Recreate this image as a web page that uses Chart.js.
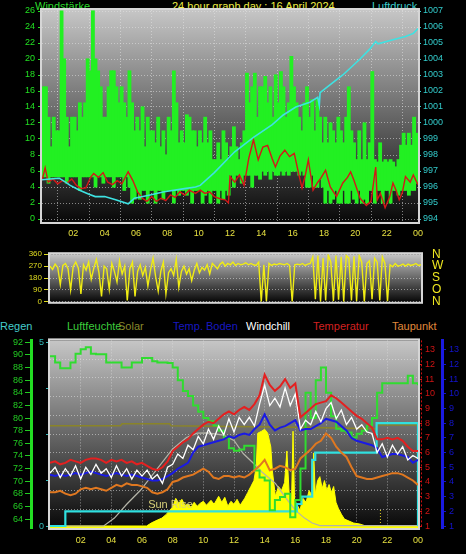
<!DOCTYPE html>
<html>
<head>
<meta charset="utf-8">
<script src="https://cdn.jsdelivr.net/npm/chart.js@4.4.1/dist/chart.umd.min.js"></script>
<style>
  body { margin: 0; background: #000; width: 466px; height: 554px; overflow: hidden; position: relative;
         font-family: "Liberation Sans", Arial, sans-serif; }
  .t { position: absolute; font-size: 11px; line-height: 12px; white-space: nowrap; }
  canvas { position: absolute; left: 0; }
</style>
</head>
<body>
<div class="t" style="left:35px;top:0;color:#2ddc2d">Windstärke</div>
<div class="t" style="left:172px;top:0;color:#eeee44">24 hour graph day : 16 April 2024</div>
<div class="t" style="left:372px;top:0;color:#3ccccc">Luftdruck</div>

<div class="t" style="left:0;top:320px;color:#44cccc">Regen</div>
<div class="t" style="left:67px;top:320px;color:#3ccc3c">Luftfeuchte</div>
<div class="t" style="left:118px;top:320px;color:#8a8a2c">Solar</div>
<div class="t" style="left:173px;top:320px;color:#1818c0">Temp. Boden</div>
<div class="t" style="left:246px;top:320px;color:#ffffff">Windchill</div>
<div class="t" style="left:313px;top:320px;color:#d42020">Temperatur</div>
<div class="t" style="left:392px;top:320px;color:#e08a3c">Taupunkt</div>

<canvas id="c1" width="466" height="245" style="top:0"></canvas>
<canvas id="c2" width="466" height="84" style="top:236px"></canvas>
<canvas id="c3" width="466" height="222" style="top:332px"></canvas>

<script>
// time axis (hours)
const stundenTicks = [2, 4, 6, 8, 10, 12, 14, 16, 18, 20, 22, 24];
const stundenLabels = ['02', '04', '06', '08', '10', '12', '14', '16', '18', '20', '22', '00'];

// wind speed, 10 minute slots, low..high
const windHoch = [
  16.5, 16.5, 12.7, 9, 12.7, 11,   11, 26, 20, 12.7, 9, 12.7,
  12.7, 11, 14.5, 12.7, 14.5, 20,   18.5, 26, 20, 18.5, 16.5, 12.7,
  12.7, 16.5, 18.5, 18.5, 16.5, 14.5,   16.5, 14.5, 12.7, 18.5, 14.5, 11,
  12.7, 11, 14, 9, 12.7, 11,   11, 9.5, 12.7, 9, 11, 8,
  12.7, 11, 18.5, 14.5, 9.5, 11,   9.5, 13, 12.7, 11, 11, 9,
  11, 9.5, 12.7, 9.5, 11, 7.4,   7.4, 9.5, 7.4, 11, 9.5, 7.4,
  9, 11.5, 9, 7.4, 9.5, 11,   18.2, 14.5, 16.5, 18.2, 12.7, 16.5,
  16.5, 17.8, 14.5, 16.5, 12.7, 18,   14.5, 18.4, 16.5, 12.7, 14.5, 20.3,
  16.5, 14.5, 12.7, 11, 14.5, 16.5,   12.7, 14.9, 11, 14.9, 12.7, 9.5,
  12.7, 9.5, 12, 11, 9.5, 12.7,   11, 9.5, 12.7, 16.5, 11, 9.5,
  7.4, 11, 7.4, 12, 7.4, 9.5,   18.4, 7.4, 7.1, 9.5, 7.1, 7.4,
  7.1, 7.4, 7.1, 6.5, 7.4, 9.2,   10.7, 9.2, 10.7, 9.2, 12.7, 10.7
];
const windTief = [
  5.3, 5.3, 4.5, 5.3, 5.3, 5.3,   5.3, 5.3, 5.3, 4.5, 5.3, 5.3,
  5.3, 5.3, 3.6, 5.3, 5.3, 5.3,   5.3, 5.3, 4, 5.3, 5.3, 4.5,
  5.3, 5.3, 5.3, 4, 5.3, 5.3,   5.3, 3.6, 5.3, 4, 2, 2.5,
  3.6, 2.5, 3.6, 3.6, 2, 3.6,   3.6, 2, 3.6, 3.6, 2.5, 3.6,
  3.6, 3.6, 2, 3.6, 3, 3.6,   3.6, 3, 3.6, 2, 3.6, 3.6,
  3.6, 2, 3, 3.6, 2, 3.6,   3.6, 2, 3.6, 2.5, 3.6, 3,
  5.5, 4, 5.5, 5.5, 4.5, 5.5,   5.5, 5.5, 4, 5.5, 5.5, 5,
  6, 5.5, 6, 5, 6, 5.5,   5.5, 6, 5.5, 6, 5.5, 6,
  6, 6, 5.5, 6, 5.5, 4,   4, 5.5, 4, 4, 5, 4,
  2, 3.6, 2, 2.5, 3.6, 2,   2, 3.6, 2, 2, 3.6, 2.5,
  2, 3.6, 2, 2.5, 2, 3.6,   3.6, 2, 3.6, 3.6, 2, 3.6,
  3.6, 2, 3.6, 3.6, 3, 3.6,   3.6, 3.6, 3, 3.6, 3.6, 4.5
];

// red line of the top panel (°C on the left scale)
const gefuehltStunden = [0, 0.2, 0.4, 0.7, 1.0, 1.3, 1.6, 1.9, 2.2, 2.5, 2.8, 3.1, 3.3, 3.6, 3.9, 4.2, 4.5, 4.8, 5.1, 5.5,
  5.8, 6.1, 6.4, 6.7, 7.0, 7.3, 7.6, 7.9, 8.2, 8.5, 8.8, 9.1, 9.4, 9.8, 10.1, 10.4, 10.7, 11.0, 11.4, 11.7, 11.9,
  12.0, 12.3, 12.6, 12.9, 13.2, 13.5, 13.8, 14.1, 14.4, 14.7, 14.9, 15.2, 15.5, 15.8, 16.1, 16.4, 16.6, 16.8, 17.0,
  17.3, 17.6, 17.8, 18.1, 18.4, 18.8, 19.2, 19.5, 19.7, 19.9, 20.3, 20.7, 21.0, 21.3, 21.4, 21.6, 21.9, 22.2, 22.4,
  22.6, 22.8, 23.0, 23.2, 23.5, 23.7, 24];
const gefuehltWerte = [4.8, 6.4, 4.6, 5.0, 4.4, 4.8, 4.5, 5.0, 4.2, 3.8, 3.9, 5.2, 5.7, 5.2, 5.8, 4.6, 4.3, 4.8, 4.4, 5.9,
  4.8, 3.4, 2.6, 2.2, 2.8, 2.2, 2.6, 2.3, 3.0, 2.7, 3.4, 3.0, 3.6, 3.2, 3.6, 3.2, 3.4, 2.8, 2.5, 2.4, 2.0,
  5.3, 4.6, 5.5, 4.2, 7.6, 9.9, 7.4, 9.0, 9.2, 7.5, 6.5, 7.9, 8.6, 7.8, 8.2, 5.5, 3.9, 5.4, 7.4,
  3.6, 4.6, 5.1, 6.1, 4.0, 2.8, 4.5, 5.2, 5.9, 4.9, 2.6, 1.7, 2.2, 6.5, 2.4, 3.2, 1.4, 2.8, 4.5,
  3.6, 2.4, 3.3, 5.3, 4.6, 5.5, 4.3];

// air pressure (hPa)
const druckStunden = [0, 0.5, 1.1, 1.5, 1.8, 2.4, 3.0, 3.4, 4.0, 4.7, 5.5, 5.9, 6.9, 7.8, 9.1, 9.8, 10.1, 11.0, 11.8,
  12.3, 13.5, 14.7, 15.4, 16.2, 17.1, 17.6, 17.7, 17.75, 18.4, 19.2, 20.3, 20.9, 21.3, 21.45, 22.4, 23.2, 23.7, 24];
const druckWerte = [996.45, 996.5, 996.55, 996.3, 996.1, 995.8, 995.55, 995.4, 995.4, 995.2, 994.95, 995.3, 995.5, 995.7,
  995.9, 996.0, 996.1, 996.9, 997.7, 998.2, 999.1, 999.9, 1000.5, 1001.0, 1001.3, 1001.6, 1001.1, 1001.9, 1002.4,
  1003.0, 1004.0, 1004.6, 1005.1, 1004.95, 1005.2, 1005.4, 1005.6, 1005.9];

const windTicks = [0, 2, 4, 6, 8, 10, 12, 14, 16, 18, 20, 22, 24, 26];
const druckTicks = [994, 995, 996, 997, 998, 999, 1000, 1001, 1002, 1003, 1004, 1005, 1006, 1007];

// wind direction, 10 minute samples (deg)
const richtung = [
  270, 245, 285, 260, 130, 275,   290, 250, 90, 265, 300, 255,
  60, 280, 240, 300, 170, 255,   320, 220, 40, 270, 250, 95,
  290, 230, 150, 310, 210, 270,   10, 250, 300, 40, 230, 280,
  200, 260, 120, 240, 330, 190,   80, 230, 300, 60, 220, 250,
  200, 320, 110, 230, 270, 210,   250, 160, 240, 290, 220, 260,
  240, 280, 210, 290, 270, 250,   285, 300, 270, 290, 280, 300,
  275, 290, 280, 285, 295, 280,   290, 280, 275, 300, 0, 280,
  5, 290, 275, 285, 280, 290,   285, 280, 290, 275, 0, 280,
  285, 280, 290, 275, 285, 290,   340, 20, 350, 0, 330, 10,
  355, 300, 5, 350, 15, 340,   0, 350, 330, 10, 345, 5,
  350, 300, 0, 290, 310, 20,   330, 300, 10, 340, 290, 5,
  280, 265, 290, 270, 275, 285,   270, 285, 275, 280, 290, 275,
  280
];
const richtungTicks = [0, 90, 180, 270, 360];
const richtungNamen = ['N', 'O', 'S', 'W', 'N'];

// bottom panel, 20 minute samples
const temperatur = [5.3, 5.4, 5.2, 5.3, 5.5, 5.4, 5.3, 5.5, 5.6, 5.6, 5.5, 5.3, 5.5, 5.4, 5.5, 5.3, 5.4, 5.2,
  5.3, 5.1, 4.9, 4.8, 5.0, 5.4, 6.1, 6.4, 6.7, 6.9, 7.3, 7.6, 7.9, 8.1, 8.0, 8.3, 8.6, 8.8, 8.6, 8.9, 9.1,
  8.9, 9.3, 9.9, 11.3, 10.6, 10.2, 10.5, 11.0, 10.4, 10.7, 8.4, 8.7, 9.0, 9.3, 9.4, 9.5, 9.9, 9.7, 9.4, 9.1,
  8.8, 8.5, 8.3, 8.0, 7.7, 6.9, 6.9, 7.0, 6.9, 7.0, 6.8, 6.4, 6.1, 6.1];
const windchill = [4.6, 5.0, 4.3, 4.9, 4.4, 5.1, 4.2, 5.0, 4.5, 5.2, 4.6, 4.9, 4.3, 5.1, 4.4, 4.9, 4.2, 4.8,
  4.4, 4.8, 4.2, 4.5, 3.9, 5.0, 5.2, 5.9, 5.6, 6.5, 6.2, 7.1, 6.6, 7.6, 6.9, 7.8, 7.2, 8.3, 7.4, 8.4, 7.9,
  8.4, 7.8, 9.3, 10.6, 9.2, 9.7, 9.1, 10.4, 9.2, 10.0, 7.6, 8.2, 7.9, 8.8, 8.1, 9.0, 9.4, 8.3, 8.9, 7.9,
  8.4, 7.6, 7.9, 7.4, 7.3, 6.0, 6.6, 5.7, 6.5, 5.9, 6.4, 5.5, 5.8, 5.6];
const boden = [4.5, 4.4, 4.5, 4.4, 4.5, 4.6, 4.5, 4.6, 4.7, 4.6, 4.5, 4.4, 4.5, 4.6, 4.5, 4.4, 4.5, 4.4,
  4.3, 4.2, 4.1, 4.1, 4.2, 4.4, 4.6, 4.9, 5.1, 5.3, 6.0, 6.4, 6.5, 6.6, 6.7, 6.8, 6.9, 7.1, 7.0, 7.2, 7.3,
  7.2, 7.6, 7.9, 8.6, 7.9, 7.5, 7.7, 7.8, 8.0, 8.2, 7.5, 7.6, 7.6, 7.8, 8.0, 8.3, 8.2, 8.1, 7.8, 7.5,
  7.0, 6.8, 6.7, 6.6, 6.5, 6.3, 5.7, 5.8, 5.9, 5.9, 5.8, 5.7, 5.3, 5.5];
const taupunkt = [3.3, 3.3, 3.4, 3.2, 3.1, 3.2, 3.5, 3.6, 3.5, 3.6, 3.5, 3.4, 3.6, 3.8, 3.7, 3.9, 3.8, 3.8,
  3.7, 3.6, 3.3, 3.2, 3.3, 3.5, 4.0, 4.1, 4.3, 4.4, 4.5, 4.7, 4.9, 4.7, 4.3, 4.2, 4.4, 4.4, 4.3, 4.4, 4.3,
  4.5, 4.8, 5.1, 5.5, 4.8, 4.9, 5.1, 5.0, 4.8, 4.9, 5.6, 5.9, 6.2, 6.6, 6.8, 7.3, 7.0, 6.4, 6.0, 5.7,
  5.0, 4.4, 4.3, 4.2, 4.2, 4.3, 4.4, 4.5, 4.6, 4.6, 4.5, 4.3, 4.1, 3.8];
const feuchte = [89.8, 88.8, 87.9, 87.9, 88.8, 90.2, 90.9, 91.2, 90.2, 90.1, 90.1, 88.8, 88.8, 88.8, 88.0,
  88.0, 88.8, 88.8, 89.5, 89.5, 89.0, 88.8, 88.8, 88.7, 88.0, 86.0, 84.3, 83.5, 82.0, 81.0, 80.0, 79.5,
  78.8, 78.0, 76.9, 75.2, 74.8, 75.0, 75.6, 75.6, 71.7, 70.6, 70.1, 65.4, 67.0, 67.5, 68.0, 64.3, 67.0,
  72.0, 84.0, 80.0, 86.0, 88.0, 84.0, 80.3, 78.3, 78.0, 77.7, 76.9, 77.5, 78.0, 78.8, 80.0, 84.0, 85.5,
  85.5, 85.5, 85.5, 85.5, 86.7, 85.5, 85.2];

// rain (mm, steps)
const regenStunden = [0, 1.0, 16.1, 16.4, 17.1, 17.3, 21.3, 24];
const regenWerte = [0, 0.4, 0.6, 0.8, 1.8, 2.0, 2.8, 0];

// solar radiation (W/m²)
const solarStunden = [0, 6.3, 6.6, 7.0, 7.3, 7.6, 7.8, 8.0, 8.2, 8.4, 8.6, 8.8, 9.0, 9.2, 9.4, 9.6, 9.8, 10.0,
  10.2, 10.5, 10.7, 11.0, 11.2, 11.4, 11.6, 11.8, 12.0, 12.2, 12.4, 12.7, 12.9, 13.1, 13.3, 13.45, 13.55, 13.8,
  14.0, 14.2, 14.4, 14.5, 14.7, 14.9, 15.1, 15.3, 15.45, 15.6, 15.75, 15.85, 15.95, 16.1, 16.3, 16.5, 16.7,
  16.9, 17.1, 17.2, 17.3, 17.45, 17.6, 17.75, 17.9, 18.05, 18.2, 18.35, 18.5, 18.65, 18.8, 19.0, 19.2, 19.5,
  19.8, 20.2, 20.6, 24];
const solarWerte = [0, 0, 15, 30, 40, 60, 80, 95, 140, 115, 135, 105, 110, 95, 120, 100, 115, 125,
  105, 130, 110, 150, 120, 145, 100, 125, 110, 135, 105, 140, 170, 200, 230, 300, 470, 480,
  490, 470, 400, 280, 150, 200, 180, 220, 380, 160, 120, 480, 130, 110, 80, 140, 120,
  180, 150, 370, 160, 230, 250, 190, 230, 180, 210, 170, 200, 120, 90, 60, 35, 25,
  15, 10, 0, 0];
const solarMaxStunden = [0, 4.6, 4.7, 7.8, 7.9, 16, 21.3, 21.4, 24];
const solarMaxWerte = [508, 508, 518, 518, 508, 500, 492, 512, 512];
const sonneStunden = [0, 3.5, 4.2, 5.0, 5.9, 7.0, 8.0, 8.9, 9.6, 10.3, 11.3, 12.0, 12.6, 13.3, 13.8, 14.7,
  15.4, 16.0, 16.6, 17.1, 17.6, 24];
const sonneWerte = [0, 0, 40, 110, 181, 290, 390, 448, 470, 472, 460, 433, 367, 315, 275, 216, 140, 80, 40, 15, 2, 2];

const feuchteTicks = [64, 66, 68, 70, 72, 74, 76, 78, 80, 82, 84, 86, 88, 90, 92];
const regenTicks = [0, 1.25, 2.5, 3.75, 5];
const tempTicks = [1, 2, 3, 4, 5, 6, 7, 8, 9, 10, 11, 12, 13];

Chart.defaults.font.family = '"Liberation Sans", Arial, sans-serif';
Chart.defaults.animation = false;

const pts = (xs, ys) => xs.map((x, i) => ({ x: x, y: ys[i] }));
const zeit20 = temperatur.map((v, i) => i / 3);
const fixW = w => s => { s.width = w; };
const fixH = h => s => { s.height = h; };
const setTicks = vals => s => { s.ticks = vals.map(v => ({ value: v })); };
const plain = v => String(v);
const gridCol = 'rgba(228,228,228,0.55)';

const plotBg = {
  id: 'plotBg',
  beforeDraw(chart) {
    const { ctx, chartArea: a } = chart;
    const g = ctx.createLinearGradient(0, a.top, 0, a.bottom);
    g.addColorStop(0, '#c6c6c6');
    g.addColorStop(1, '#080808');
    ctx.save();
    ctx.fillStyle = g;
    ctx.fillRect(a.left, a.top, a.right - a.left, a.bottom - a.top);
    ctx.restore();
  },
  beforeDatasetsDraw(chart) {
    const { ctx, chartArea: a } = chart;
    ctx.save();
    ctx.strokeStyle = '#d6d6d6';
    ctx.lineWidth = 2;
    ctx.strokeRect(a.left - 1, a.top - 1, a.right - a.left + 2, a.bottom - a.top + 2);
    ctx.restore();
  }
};

const baseOpts = {
  responsive: false,
  devicePixelRatio: 1,
  plugins: { legend: { display: false }, tooltip: { enabled: false } },
  elements: { point: { radius: 0 }, line: { tension: 0 } }
};

const hourAxis = (h, pad, showLabels) => ({
  type: 'linear', min: 0, max: 24, offset: false,
  afterFit: fixH(h), afterBuildTicks: setTicks(stundenTicks),
  ticks: { display: showLabels, color: '#e6e040', font: { size: 9 }, padding: pad, maxRotation: 0, autoSkip: false,
           callback: v => stundenLabels[stundenTicks.indexOf(v)] },
  grid: { display: showLabels, color: gridCol, drawTicks: false },
  border: { display: false, dash: [1, 2] }
});

// top: wind speed, red temperature, pressure
new Chart(document.getElementById('c1'), {
  type: 'line',
  data: {
    datasets: [
      { data: pts(druckStunden, druckWerte), yAxisID: 'yDruck', borderColor: '#3ee2e2', borderWidth: 1.6 },
      { data: pts(gefuehltStunden, gefuehltWerte), yAxisID: 'yWind', borderColor: '#d41818', borderWidth: 1.4 },
      { type: 'bar', yAxisID: 'yWind', backgroundColor: '#22f022', borderWidth: 0, inflateAmount: 0.6,
        barPercentage: 1, categoryPercentage: 1,
        data: windHoch.map((v, i) => ({ x: i / 6 + 1 / 12, y: [windTief[i], v] })) }
    ]
  },
  options: {
    ...baseOpts,
    layout: { padding: { top: 10, left: 0, right: 0, bottom: 0 } },
    scales: {
      x: hourAxis(23, 6, true),
      yWind: {
        position: 'left', min: -0.375, max: 26.125, afterFit: fixW(42), afterBuildTicks: setTicks(windTicks),
        ticks: { color: '#22e022', font: { size: 9 }, padding: 3, autoSkip: false, callback: plain },
        grid: { color: gridCol, tickColor: '#22e022', tickLength: 4 },
        border: { display: false, dash: [1, 2] }
      },
      yDruck: {
        position: 'right', min: 993.8125, max: 1007.0625, afterFit: fixW(48), afterBuildTicks: setTicks(druckTicks),
        ticks: { color: '#33cccc', font: { size: 9 }, padding: 2, autoSkip: false, callback: plain },
        grid: { drawOnChartArea: false, tickColor: '#33cccc', tickLength: 3 },
        border: { display: false }
      }
    }
  },
  plugins: [plotBg]
});

// middle: wind direction
new Chart(document.getElementById('c2'), {
  type: 'line',
  data: {
    datasets: [
      { data: richtung.map((v, i) => ({ x: i / 6, y: v })), borderColor: '#f0ec14', borderWidth: 1.4 }
    ]
  },
  options: {
    ...baseOpts,
    layout: { padding: { top: 9, left: 0, right: 0, bottom: 0 } },
    scales: {
      x: hourAxis(8, 0, false),
      y: {
        position: 'left', min: 0, max: 360, afterFit: fixW(50), afterBuildTicks: setTicks(richtungTicks),
        ticks: { color: '#e2de20', font: { size: 8 }, padding: 2, autoSkip: false, callback: plain },
        grid: { color: gridCol, tickColor: '#e2de20', tickLength: 6 },
        border: { display: false, dash: [1, 2] }
      },
      yN: {
        position: 'right', min: 0, max: 360, afterFit: fixW(45), afterBuildTicks: setTicks(richtungTicks),
        ticks: { color: '#f0e820', font: { size: 12 }, padding: 11, autoSkip: false,
                 callback: v => richtungNamen[richtungTicks.indexOf(v)] },
        grid: { drawOnChartArea: false, drawTicks: false },
        border: { display: false }
      }
    }
  },
  plugins: [plotBg]
});

// bottom: temperatures, humidity, rain, solar
const extras = {
  id: 'extras',
  afterDatasetsDraw(chart) {
    const { ctx, scales, chartArea: a } = chart;
    ctx.save();
    ctx.fillStyle = '#d8d07a';
    ctx.font = '11px "Liberation Sans", Arial, sans-serif';
    ctx.textBaseline = 'middle';
    ctx.fillText('Sun Rise', scales.x.getPixelForValue(6.4), scales.ySolar.getPixelForValue(106));
    ctx.strokeStyle = '#cc1010';
    ctx.setLineDash([2, 2]);
    ctx.lineWidth = 1;
    const xr = scales.yTemp.left + 3.5;
    ctx.beginPath();
    ctx.moveTo(xr, a.top);
    ctx.lineTo(xr, a.bottom);
    ctx.stroke();
    ctx.restore();
  }
};

new Chart(document.getElementById('c3'), {
  type: 'line',
  data: {
    datasets: [
      { data: pts(zeit20, temperatur), yAxisID: 'yTemp', borderColor: '#e42020', borderWidth: 2 },
      { data: pts(zeit20, windchill), yAxisID: 'yTemp', borderColor: '#ffffff', borderWidth: 1.3 },
      { data: pts(zeit20, boden), yAxisID: 'yBoden', borderColor: '#1a1ae4', borderWidth: 2 },
      { data: pts(zeit20, taupunkt), yAxisID: 'yTemp', borderColor: '#e07820', borderWidth: 2 },
      { data: pts(zeit20, feuchte), yAxisID: 'yFeuchte', borderColor: '#30dc30', borderWidth: 2, stepped: true },
      { data: pts(regenStunden, regenWerte), yAxisID: 'yRegen', borderColor: '#30e0e0', borderWidth: 2.2, stepped: true },
      { data: pts(sonneStunden, sonneWerte), yAxisID: 'ySolar', borderColor: '#b4b4a8', borderWidth: 1.2 },
      { data: pts(solarStunden, solarWerte), yAxisID: 'ySolar', borderColor: '#ffff00', borderWidth: 1,
        backgroundColor: '#ffff00', fill: 'start' },
      { data: pts(solarMaxStunden, solarMaxWerte), yAxisID: 'ySolar', borderColor: '#8a8428', borderWidth: 1.5 },
      { data: [{ x: 21.55, y: 15 }, { x: 21.55, y: 85 }], yAxisID: 'ySolar', borderColor: '#e0d020',
        borderWidth: 1, borderDash: [1, 2] }
    ]
  },
  options: {
    ...baseOpts,
    layout: { padding: { top: 7, left: 0, right: 0, bottom: 0 } },
    scales: {
      x: hourAxis(26, 7, true),
      yFeuchte: {
        position: 'left', weight: 2, min: 62.58, max: 92.3, afterFit: fixW(31), afterBuildTicks: setTicks(feuchteTicks),
        ticks: { color: '#22cc22', font: { size: 9 }, padding: 2, autoSkip: false, callback: plain },
        grid: { drawOnChartArea: false, tickColor: '#22cc22', tickLength: 6 },
        border: { display: true, color: '#22dd22', width: 3 }
      },
      yRegen: {
        position: 'left', weight: 1, min: -0.054, max: 5.054, afterFit: fixW(19), afterBuildTicks: setTicks(regenTicks),
        ticks: { color: '#33bbbb', font: { size: 9 }, padding: 2, autoSkip: false,
                 callback: v => (v === 0 || v === 5) ? String(v) : '' },
        grid: { drawOnChartArea: false, tickColor: '#33bbbb', tickLength: 4 },
        border: { display: false }
      },
      yGitter: {
        position: 'left', weight: 0, min: 0, max: 10, afterFit: fixW(0),
        afterBuildTicks: setTicks([1, 2, 3, 4, 5, 6, 7, 8, 9]),
        ticks: { display: false, autoSkip: false },
        grid: { color: gridCol, drawTicks: false },
        border: { display: false, dash: [1, 2] }
      },
      ySolar: { display: false, min: -10.2, max: 940 },
      yTemp: {
        position: 'right', weight: 1, min: 0.865, max: 13.635, afterFit: fixW(24), afterBuildTicks: setTicks(tempTicks),
        ticks: { color: '#d01414', font: { size: 9 }, padding: 3, autoSkip: false, callback: plain },
        grid: { drawOnChartArea: false, tickColor: '#d01414', tickLength: 4 },
        border: { display: false }
      },
      yBoden: {
        position: 'right', weight: 2, min: 0.865, max: 13.635, afterFit: fixW(24), afterBuildTicks: setTicks(tempTicks),
        ticks: { color: '#1414d0', font: { size: 9 }, padding: 3, autoSkip: false, callback: plain },
        grid: { drawOnChartArea: false, tickColor: '#1414d0', tickLength: 4 },
        border: { display: true, color: '#1a1ae0', width: 3 }
      }
    }
  },
  plugins: [plotBg, extras]
});
</script>
</body>
</html>
